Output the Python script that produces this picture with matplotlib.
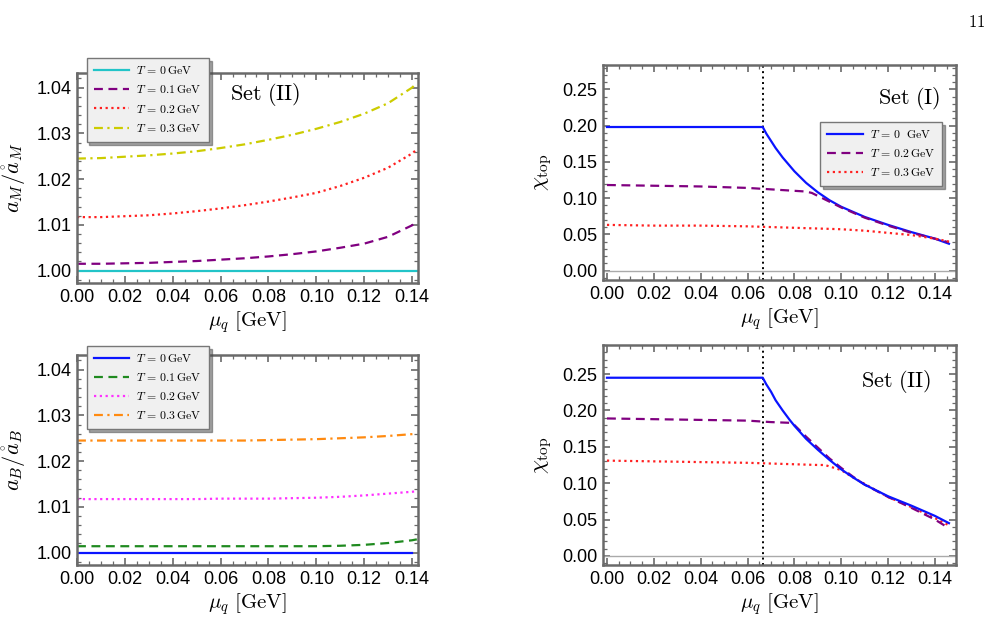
import matplotlib
matplotlib.use("Agg")
import matplotlib.pyplot as plt
from matplotlib.ticker import MultipleLocator, FormatStrFormatter

plt.rcParams["mathtext.fontset"] = "cm"
plt.rcParams["font.family"] = ["Liberation Sans", "DejaVu Sans"]

# ============================================================
# data
# ============================================================
mu_a = [0.00, 0.01, 0.02, 0.03, 0.04, 0.05, 0.06, 0.07, 0.08, 0.09,
        0.10, 0.11, 0.12, 0.13, 0.14, 0.142]

# a_M / a_M(0), Set (II)
aM_T0 = [1.0000] * 16
aM_T01 = [1.0015, 1.0015, 1.0016, 1.0017, 1.0019, 1.0021, 1.0024, 1.0027,
          1.0031, 1.0036, 1.0042, 1.0050, 1.0059, 1.0074, 1.0099, 1.0107]
aM_T02 = [1.0117, 1.0117, 1.0119, 1.0121, 1.0125, 1.0130, 1.0136, 1.0143,
          1.0151, 1.0160, 1.0170, 1.0185, 1.0203, 1.0225, 1.0256, 1.0265]
aM_T03 = [1.0245, 1.0246, 1.0249, 1.0252, 1.0256, 1.0261, 1.0268, 1.0276,
          1.0286, 1.0297, 1.0310, 1.0325, 1.0343, 1.0366, 1.0400, 1.0410]

# a_B / a_B(0)
aB_T0 = [1.0000] * 16
aB_T01 = [1.0014, 1.0014, 1.0014, 1.0014, 1.0014, 1.0014, 1.0014, 1.0014,
          1.0014, 1.0014, 1.0014, 1.0015, 1.0017, 1.0021, 1.0027, 1.0029]
aB_T02 = [1.0117, 1.0117, 1.0117, 1.0117, 1.0117, 1.0117, 1.0118, 1.0118,
          1.0118, 1.0119, 1.0120, 1.0122, 1.0125, 1.0129, 1.0133, 1.0134]
aB_T03 = [1.0245, 1.0245, 1.0245, 1.0245, 1.0245, 1.0245, 1.0245, 1.0245,
          1.0246, 1.0247, 1.0248, 1.0250, 1.0252, 1.0255, 1.0259, 1.0260]

mu_c = 0.0665  # vertical dotted line

# chi_top, Set (I)
mu_1_T0 = [0.00, 0.0665, 0.068, 0.07, 0.072, 0.075, 0.08, 0.085, 0.09,
           0.095, 0.10, 0.11, 0.12, 0.13, 0.14, 0.146]
chi1_T0 = [0.198, 0.198, 0.189, 0.179, 0.169, 0.156, 0.137, 0.121, 0.108,
           0.097, 0.088, 0.074, 0.063, 0.053, 0.044, 0.037]
mu_1_T02 = [0.00, 0.02, 0.04, 0.06, 0.07, 0.08, 0.085, 0.0875, 0.09,
            0.095, 0.10, 0.105, 0.11, 0.12, 0.13, 0.14, 0.146]
chi1_T02 = [0.118, 0.117, 0.116, 0.114, 0.112, 0.110, 0.109, 0.107, 0.103,
            0.095, 0.087, 0.080, 0.073, 0.062, 0.052, 0.044, 0.039]
mu_1_T03 = [0.00, 0.02, 0.04, 0.06, 0.08, 0.10, 0.11, 0.12, 0.13, 0.14, 0.146]
chi1_T03 = [0.063, 0.062, 0.062, 0.061, 0.059, 0.057, 0.055, 0.052, 0.049,
            0.044, 0.040]

# chi_top, Set (II)
mu_2_T0 = [0.00, 0.0665, 0.068, 0.07, 0.072, 0.075, 0.078, 0.08, 0.085,
           0.09, 0.095, 0.10, 0.105, 0.11, 0.12, 0.13, 0.14, 0.146]
chi2_T0 = [0.245, 0.245, 0.236, 0.226, 0.214, 0.200, 0.187, 0.179, 0.161,
           0.146, 0.132, 0.119, 0.108, 0.098, 0.082, 0.069, 0.055, 0.045]
mu_2_T02 = [0.00, 0.02, 0.04, 0.06, 0.07, 0.078, 0.08, 0.085, 0.09, 0.095,
            0.10, 0.105, 0.11, 0.12, 0.13, 0.14, 0.146]
chi2_T02 = [0.189, 0.188, 0.187, 0.186, 0.184, 0.183, 0.180, 0.164, 0.149,
            0.134, 0.121, 0.109, 0.098, 0.081, 0.066, 0.050, 0.038]
mu_2_T03 = [0.00, 0.02, 0.04, 0.06, 0.08, 0.09, 0.093, 0.095, 0.10, 0.105,
            0.11, 0.12, 0.13, 0.14, 0.146]
chi2_T03 = [0.131, 0.130, 0.129, 0.128, 0.126, 0.125, 0.125, 0.123, 0.118,
            0.108, 0.099, 0.081, 0.067, 0.052, 0.042]

FRAME = "#6a6a6a"
LABEL = dict(fontsize=15)


def style_axes(ax, xmaj, xmin, ymaj, ymin, yfmt):
    for s in ax.spines.values():
        s.set_color(FRAME)
        s.set_linewidth(1.8)
    ax.xaxis.set_major_locator(MultipleLocator(xmaj))
    ax.xaxis.set_minor_locator(MultipleLocator(xmin))
    ax.yaxis.set_major_locator(MultipleLocator(ymaj))
    ax.yaxis.set_minor_locator(MultipleLocator(ymin))
    ax.xaxis.set_major_formatter(FormatStrFormatter("%.2f"))
    ax.yaxis.set_major_formatter(FormatStrFormatter(yfmt))
    ax.tick_params(which="both", direction="in", top=True, right=True,
                   color=FRAME, labelsize=13, pad=4)
    ax.tick_params(which="major", length=5, width=1.2)
    ax.tick_params(which="minor", length=3, width=0.9)


def add_legend(ax, anchor, **kw):
    leg = ax.legend(loc="upper left", bbox_to_anchor=anchor, borderaxespad=0,
                    fontsize=8.5, frameon=True, fancybox=False, shadow=True,
                    handlelength=3.0, handletextpad=0.6, labelspacing=0.6,
                    borderpad=0.6, **kw)
    leg.get_frame().set_facecolor("#f0f0f0")
    leg.get_frame().set_edgecolor("#777777")
    leg.get_frame().set_linewidth(1.0)
    leg.get_frame().set_alpha(1.0)
    return leg


fig = plt.figure(figsize=(10.08, 6.24), dpi=100)
ax_tl = fig.add_axes([0.0764, 0.5465, 0.3383, 0.3365])
ax_bl = fig.add_axes([0.0764, 0.0946, 0.3383, 0.3365])
ax_tr = fig.add_axes([0.5982, 0.5513, 0.3502, 0.3445])
ax_br = fig.add_axes([0.5982, 0.0946, 0.3502, 0.3525])

lw = 1.6
tlab = [r"$T\,=\,0\,\mathrm{GeV}$", r"$T\,=\,0.1\,\mathrm{GeV}$",
        r"$T\,=\,0.2\,\mathrm{GeV}$", r"$T\,=\,0.3\,\mathrm{GeV}$"]

# ---------------- top left ----------------
ax = ax_tl
ax.plot(mu_a, aM_T0, color="#22c4c8", lw=lw, label=tlab[0])
ax.plot(mu_a, aM_T01, color="#800080", lw=lw, ls=(0, (4, 2.5)), label=tlab[1])
ax.plot(mu_a, aM_T02, color="#ff2020", lw=lw, ls=(0, (1, 1.6)), label=tlab[2])
ax.plot(mu_a, aM_T03, color="#cccc00", lw=lw, ls=(0, (4, 2, 1, 2)), label=tlab[3])
ax.set_xlim(0, 0.1425)
ax.set_ylim(0.9973, 1.0432)
style_axes(ax, 0.02, 0.005, 0.01, 0.002, "%.2f")
ax.set_xlabel(r"$\mu_q\ [\mathrm{GeV}]$", **LABEL, labelpad=3)
ax.set_ylabel(r"$a_M/\mathring{a}_M$", fontsize=16, labelpad=6)
ax.text(0.45, 0.87, r"$\mathrm{Set\ (II)}$", transform=ax.transAxes, fontsize=16)
add_legend(ax, (0.028, 1.07))

# ---------------- bottom left ----------------
ax = ax_bl
ax.plot(mu_a[:-1], aB_T0[:-1], color="#0a14ff", lw=lw, label=tlab[0])
ax.plot(mu_a, aB_T01, color="#1f8a1f", lw=lw, ls=(0, (4, 2.5)), label=tlab[1])
ax.plot(mu_a, aB_T02, color="#ff30ff", lw=lw, ls=(0, (1, 1.6)), label=tlab[2])
ax.plot(mu_a, aB_T03, color="#ff8a10", lw=lw, ls=(0, (4, 2, 1, 2)), label=tlab[3])
ax.set_xlim(0, 0.1425)
ax.set_ylim(0.9973, 1.0432)
style_axes(ax, 0.02, 0.005, 0.01, 0.002, "%.2f")
ax.set_xlabel(r"$\mu_q\ [\mathrm{GeV}]$", **LABEL, labelpad=3)
ax.set_ylabel(r"$a_B/\mathring{a}_B$", fontsize=16, labelpad=6)
add_legend(ax, (0.028, 1.043))

# ---------------- top right ----------------
ax = ax_tr
ax.axhline(0, color="#aaaaaa", lw=1.0)
ax.axvline(mu_c, color="black", lw=1.4, ls=(0, (1, 1.8)))
ax.plot(mu_1_T0, chi1_T0, color="#0a14ff", lw=lw,
        label=r"$T\,=\,0\ \ \mathrm{GeV}$")
ax.plot(mu_1_T02, chi1_T02, color="#800080", lw=lw, ls=(0, (4, 2.5)),
        label=r"$T\,=\,0.2\,\mathrm{GeV}$")
ax.plot(mu_1_T03, chi1_T03, color="#ff2020", lw=lw, ls=(0, (1, 1.6)),
        label=r"$T\,=\,0.3\,\mathrm{GeV}$")
ax.set_xlim(-0.0017, 0.149)
ax.set_ylim(-0.013, 0.2835)
style_axes(ax, 0.02, 0.005, 0.05, 0.01, "%.2f")
ax.set_xlabel(r"$\mu_q\ [\mathrm{GeV}]$", **LABEL, labelpad=3)
ax.set_ylabel(r"$\chi_{\mathrm{top}}$", fontsize=16, labelpad=6)
ax.text(0.78, 0.82, r"$\mathrm{Set\ (I)}$", transform=ax.transAxes, fontsize=16)
add_legend(ax, (0.615, 0.736))

# ---------------- bottom right ----------------
ax = ax_br
ax.axhline(0, color="#aaaaaa", lw=1.0)
ax.axvline(mu_c, color="black", lw=1.4, ls=(0, (1, 1.8)))
ax.plot(mu_2_T03, chi2_T03, color="#ff2020", lw=lw, ls=(0, (1, 1.6)))
ax.plot(mu_2_T02, chi2_T02, color="#800080", lw=lw, ls=(0, (4, 2.5)))
ax.plot(mu_2_T0, chi2_T0, color="#0a14ff", lw=lw)
ax.set_xlim(-0.0017, 0.149)
ax.set_ylim(-0.0125, 0.29)
style_axes(ax, 0.02, 0.005, 0.05, 0.01, "%.2f")
ax.set_xlabel(r"$\mu_q\ [\mathrm{GeV}]$", **LABEL, labelpad=3)
ax.set_ylabel(r"$\chi_{\mathrm{top}}$", fontsize=16, labelpad=6)
ax.text(0.73, 0.81, r"$\mathrm{Set\ (II)}$", transform=ax.transAxes, fontsize=16)

# page number
fig.text(0.977, 0.965, r"$\mathrm{11}$", fontsize=12, ha="right", va="center")

fig.savefig("out.png", dpi=100, facecolor="white")
